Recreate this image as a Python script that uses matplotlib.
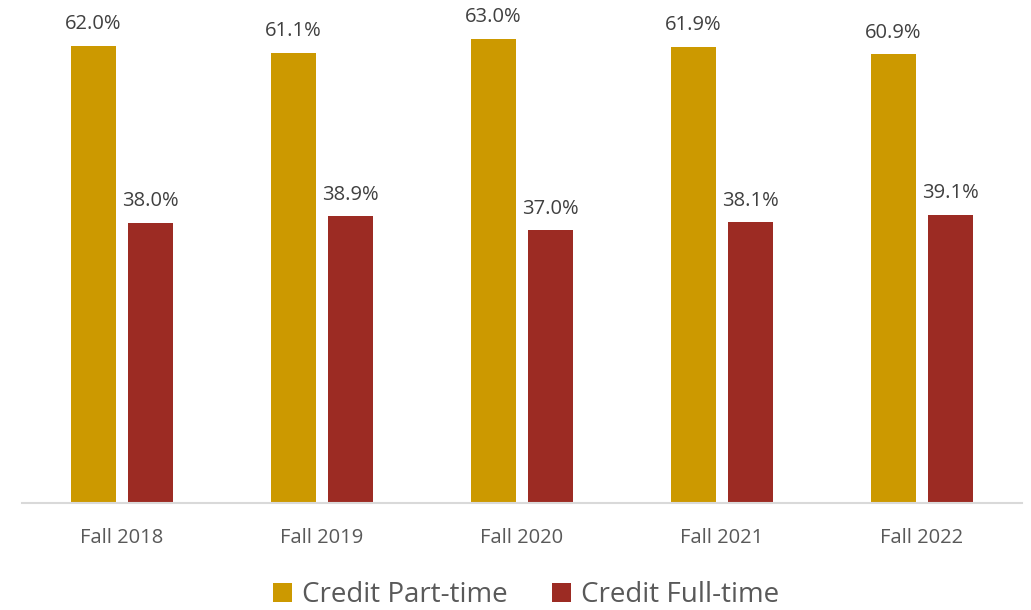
import matplotlib.pyplot as plt
import numpy as np

years = ['Fall 2018', 'Fall 2019', 'Fall 2020', 'Fall 2021', 'Fall 2022']
part_time = [62.0, 61.1, 63.0, 61.9, 60.9]
full_time = [38.0, 38.9, 37.0, 38.1, 39.1]

gold = '#CC9900'
red = '#9C2B23'

plt.rcParams['font.family'] = ['Open Sans', 'DejaVu Sans']

fig = plt.figure(figsize=(10.31, 6.10), dpi=100)
ax = fig.add_axes([22/1031, 107/610, 1000/1031, 501/610])

x = np.arange(len(years))
w = 0.225
off = 0.1425
b1 = ax.bar(x - off, part_time, w, color=gold, label='Credit Part-time')
b2 = ax.bar(x + off, full_time, w, color=red, label='Credit Full-time')

for bars in (b1, b2):
    for b in bars:
        ax.text(b.get_x() + b.get_width()/2, b.get_height() + 1.6, '%.1f%%' % b.get_height(),
                ha='center', va='bottom', fontsize=14.5, color='#404040')

ax.set_xlim(-0.5, 4.5)
ax.set_ylim(0, 68)
ax.set_xticks(x)
ax.set_xticklabels(years, fontsize=14.5, color='#595959')
ax.tick_params(axis='x', length=0, pad=18)
ax.set_yticks([])
for s in ['top', 'right', 'left']:
    ax.spines[s].set_visible(False)
ax.spines['bottom'].set_color('#D9D9D9')
ax.spines['bottom'].set_linewidth(1.5)

fig.legend(loc='lower center', bbox_to_anchor=(0.51, -0.04), ncol=2, frameon=False,
           fontsize=20, labelcolor='#595959', handlelength=0.7, handleheight=0.7,
           handletextpad=0.35, columnspacing=1.6)

fig.savefig('out.png', dpi=100)
